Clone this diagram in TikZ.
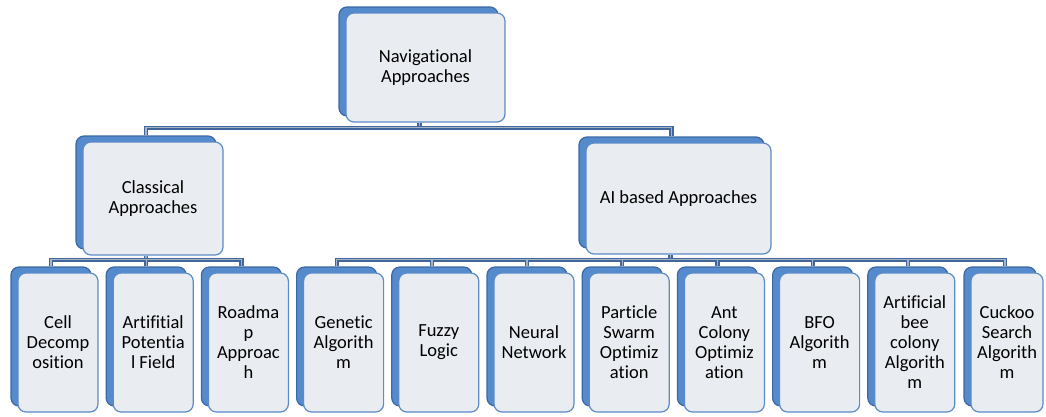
\documentclass[tikz,border=0pt]{standalone}
\usepackage{fontspec}
\setmainfont[Ligatures=NoCommon]{Carlito}
\usetikzlibrary{shadows,calc}
\definecolor{facef}{HTML}{E9ECF1}
\definecolor{faceb}{HTML}{5B8BC8}
\definecolor{backf}{HTML}{558BCD}
\definecolor{backd}{HTML}{3B67A3}
\definecolor{linec}{HTML}{3F679E}
\definecolor{linei}{HTML}{A8B4C6}
\begin{document}
\begin{tikzpicture}[x=1pt,y=-1pt,
  face/.style={draw=faceb, line width=1.2pt, fill=facef, rounded corners=8pt,
    align=center, inner sep=2pt, font=\fontsize{18.5}{20}\selectfont,
    copy shadow={shadow xshift=-7pt, shadow yshift=6pt, fill=backf, draw=backd, line width=1.2pt}},
  leaf/.style={face, minimum width=80pt, minimum height=139pt},
  conn/.style={draw=linec, line width=1.4pt, double=linei, double distance=1.4pt}]
\useasboundingbox (0,0) rectangle (1046,416);
% nodes
\node[face, minimum width=159pt, minimum height=109pt] (nav) at (425.5,67.5) {Navigational\\Approaches};
\node[face, minimum width=140pt, minimum height=113pt] (cls) at (153,198.5) {Classical\\Approaches};
\node[face, minimum width=185pt, minimum height=111pt] (ai) at (678.5,198.5) {AI based Approaches};
\node[leaf] (b0) at (58,342.5) {Cell\\Decomp\\osition};
\node[leaf] (b1) at (153.2,342.5) {Artifitial\\Potentia\\l Field};
\node[leaf] (b2) at (248.4,342.5) {Roadma\\p\\Approac\\h};
\node[leaf] (b3) at (343.6,342.5) {Genetic\\Algorith\\m};
\node[leaf] (b4) at (438.8,342.5) {Fuzzy\\Logic};
\node[leaf] (b5) at (534,342.5) {Neural\\Network};
\node[leaf] (b6) at (629.2,342.5) {Particle\\Swarm\\Optimiz\\ation};
\node[leaf] (b7) at (724.4,342.5) {Ant\\Colony\\Optimiz\\ation};
\node[leaf] (b8) at (819.6,342.5) {BFO\\Algorith\\m};
\node[leaf] (b9) at (914.8,342.5) {Artificial\\bee\\colony\\Algorith\\m};
\node[face, minimum width=72pt, minimum height=139pt] (b10) at (1007,342.5) {Cuckoo\\Search\\Algorith\\m};
% bus coordinates
\coordinate (nb) at ($(nav.south)+(-6,5)$);
\coordinate (cb) at ($(cls.south)+(-7,4)$);
\coordinate (ab) at ($(ai.south)+(-8,5)$);
% top level
\draw[conn] ($(nav.south)+(-6,0)$) -- (nb);
\draw[conn] ($(cls.north)+(-7,-6)$) |- (nb) -| ($(ai.north)+(-7,-6)$);
% classical children
\draw[conn] ($(cls.south)+(-7,0)$) -- (cb);
\draw[conn] ($(b0.north)+(-7,-6)$) |- (cb) -| ($(b2.north)+(-7,-6)$);
\draw[conn] ($(b1.north)+(-7,-6)$) -- (cb -| {$(b1.north)+(-7,0)$});
% AI children
\draw[conn] ($(ai.south)+(-8,0)$) -- (ab);
\draw[conn] ($(b3.north)+(-7,-6)$) |- (ab) -| ($(b10.north)+(-2,-6)$);
\foreach \n in {b4,b5,b6,b7,b8,b9}{
  \draw[conn] ($(\n.north)+(-7,-6)$) -- (ab -| {$(\n.north)+(-7,0)$});
}
\end{tikzpicture}
\end{document}
